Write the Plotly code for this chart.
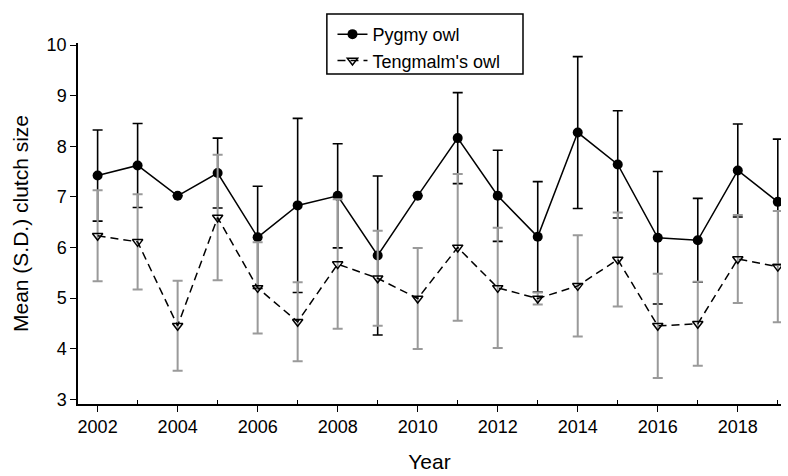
import plotly.graph_objects as go

years = list(range(2002, 2020))

pygmy_mean = [7.42, 7.62, 7.02, 7.47, 6.20, 6.83, 7.02, 5.84, 7.02, 8.16,
              7.02, 6.21, 8.27, 7.64, 6.19, 6.14, 7.52, 6.90]
pygmy_sd = [0.90, 0.83, None, 0.69, 1.01, 1.72, 1.03, 1.57, None, 0.90,
            0.90, 1.09, 1.50, 1.06, 1.31, 0.83, 0.92, 1.24]

teng_mean = [6.23, 6.11, 4.45, 6.59, 5.20, 4.53, 5.67, 5.39, 4.99, 6.00,
             5.20, 4.99, 5.24, 5.76, 4.45, 4.49, 5.77, 5.62]
teng_sd = [0.90, 0.94, 0.89, 1.24, 0.90, 0.78, 1.28, 0.94, 1.00, 1.45,
           1.19, 0.12, 1.00, 0.93, 1.03, 0.83, 0.87, 1.10]

major_ticks = list(range(2002, 2019, 2))
minor_ticks = list(range(2003, 2020, 2))
y_ticks = list(range(3, 11))

FONT = "Liberation Sans, Arial, sans-serif"

fig = go.Figure()

fig.add_trace(go.Scatter(
    x=years, y=pygmy_mean, name="Pygmy owl", mode="lines+markers",
    line=dict(color="black", width=1.5),
    marker=dict(symbol="circle", size=10, color="black"),
    error_y=dict(type="data", array=pygmy_sd, visible=True,
                 color="black", thickness=1.6, width=5),
))

fig.add_trace(go.Scatter(
    x=years, y=teng_mean, name="Tengmalm's owl", mode="lines+markers",
    line=dict(color="black", width=1.5, dash="8px,5px"),
    marker=dict(symbol="triangle-down-open", size=9, color="black",
                line=dict(width=1.5)),
    error_y=dict(type="data", array=teng_sd, visible=True,
                 color="#9a9a9a", thickness=2, width=5),
))

# legend frame (layout decoration)
fig.add_shape(type="rect", xref="paper", yref="paper",
              x0=0.354, x1=0.633, y0=0.914, y1=1.080,
              line=dict(color="black", width=1.5), fillcolor="rgba(0,0,0,0)",
              layer="above")

fig.update_layout(
    width=788, height=476,
    margin=dict(l=78, r=7, t=43, b=72),
    paper_bgcolor="white", plot_bgcolor="white",
    font=dict(family=FONT, size=18, color="black"),
    showlegend=True,
    legend=dict(
        x=0.362, y=1.075, xanchor="left", yanchor="top",
        bgcolor="rgba(0,0,0,0)", borderwidth=0,
        font=dict(family=FONT, size=18, color="black"),
        tracegroupgap=0,
    ),
    xaxis=dict(
        range=[2001.51, 2019.08],
        tickvals=major_ticks, ticktext=[str(v) for v in major_ticks],
        ticks="outside", ticklen=6, tickwidth=1.2, tickcolor="black",
        minor=dict(tickvals=minor_ticks, ticks="inside", ticklen=4,
                   tickwidth=1.2, tickcolor="black", showgrid=False),
        showline=True, linecolor="black", linewidth=1.5,
        showgrid=False, zeroline=False,
        tickfont=dict(size=18),
        title=dict(text="Year", font=dict(size=21), standoff=18),
    ),
    yaxis=dict(
        range=[2.905, 10.04],
        tickvals=y_ticks,
        ticks="outside", ticklen=6, tickwidth=1.2, tickcolor="black",
        showline=True, linecolor="black", linewidth=1.5,
        showgrid=False, zeroline=False,
        tickfont=dict(size=18),
        title=dict(text="Mean (S.D.) clutch size", font=dict(size=21), standoff=12),
    ),
)

fig.write_html("out.html")
